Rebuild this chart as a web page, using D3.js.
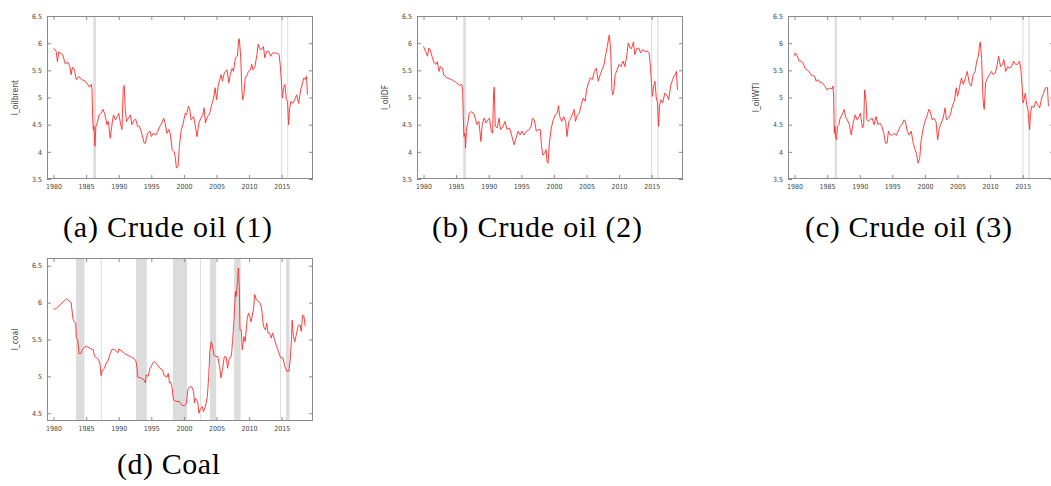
<!DOCTYPE html>
<html>
<head>
<meta charset="utf-8">
<script src="https://cdn.jsdelivr.net/npm/d3@7"></script>
<style>
  body { margin: 0; background: #fff; }
</style>
</head>
<body>
<div id="fig"></div>
<script>
// ---- data (year, log price) ----
var brent = [[1980.0,5.91],[1980.4,5.85],[1980.6,5.66],[1980.8,5.84],[1981.0,5.82],[1981.4,5.79],[1981.8,5.62],[1982.2,5.65],[1982.5,5.57],[1982.7,5.42],[1982.9,5.56],[1983.2,5.51],[1983.5,5.33],[1983.9,5.39],[1984.3,5.33],[1984.8,5.31],[1985.2,5.25],[1985.5,5.19],[1985.8,5.24],[1985.9,5.16],[1986.0,4.65],[1986.1,4.4],[1986.2,4.47],[1986.35,4.10],[1986.5,4.47],[1986.7,4.53],[1987.0,4.68],[1987.3,4.71],[1987.6,4.78],[1987.9,4.68],[1988.2,4.5],[1988.4,4.56],[1988.7,4.25],[1989.0,4.53],[1989.2,4.68],[1989.5,4.59],[1989.8,4.65],[1990.0,4.71],[1990.3,4.5],[1990.5,4.41],[1990.7,5.18],[1990.85,5.22],[1991.0,4.78],[1991.2,4.56],[1991.5,4.62],[1991.8,4.68],[1992.0,4.5],[1992.4,4.59],[1992.6,4.6],[1992.9,4.47],[1993.2,4.47],[1993.6,4.31],[1993.9,4.16],[1994.1,4.16],[1994.4,4.34],[1994.8,4.38],[1995.0,4.28],[1995.3,4.34],[1995.7,4.31],[1996.0,4.38],[1996.3,4.47],[1996.6,4.53],[1996.9,4.62],[1997.1,4.53],[1997.4,4.34],[1997.7,4.41],[1997.9,4.34],[1998.2,4.04],[1998.5,4.0],[1998.7,3.88],[1998.85,3.70],[1999.1,3.73],[1999.3,4.10],[1999.6,4.41],[1999.9,4.53],[2000.2,4.71],[2000.4,4.68],[2000.7,4.84],[2000.9,4.78],[2001.1,4.59],[2001.5,4.65],[2001.8,4.44],[2002.0,4.28],[2002.3,4.53],[2002.6,4.62],[2002.9,4.68],[2003.1,4.81],[2003.3,4.53],[2003.6,4.65],[2003.9,4.68],[2004.2,4.84],[2004.5,4.96],[2004.8,5.18],[2005.0,4.96],[2005.3,5.24],[2005.7,5.42],[2005.9,5.30],[2006.2,5.45],[2006.6,5.51],[2006.9,5.27],[2007.1,5.42],[2007.4,5.54],[2007.6,5.48],[2007.9,5.73],[2008.2,5.76],[2008.4,6.07],[2008.5,6.08],[2008.7,5.76],[2008.9,5.14],[2009.0,4.96],[2009.2,5.05],[2009.4,5.36],[2009.7,5.42],[2009.9,5.48],[2010.2,5.51],[2010.4,5.61],[2010.6,5.51],[2010.9,5.57],[2011.2,5.79],[2011.4,5.98],[2011.7,5.88],[2011.9,5.88],[2012.2,5.94],[2012.4,5.73],[2012.7,5.85],[2013.0,5.85],[2013.3,5.76],[2013.6,5.82],[2014.0,5.82],[2014.4,5.81],[2014.6,5.79],[2014.8,5.57],[2015.0,5.21],[2015.1,4.99],[2015.3,5.18],[2015.5,5.24],[2015.7,4.96],[2015.9,4.93],[2016.05,4.5],[2016.2,4.78],[2016.4,4.93],[2016.7,4.89],[2017.0,4.96],[2017.3,5.05],[2017.6,4.89],[2017.9,5.14],[2018.2,5.27],[2018.4,5.36],[2018.6,5.33],[2018.8,5.39],[2018.95,5.05]];

var oilIDF = [[1980.0,5.94],[1980.3,5.85],[1980.6,5.76],[1980.8,5.91],[1981.0,5.88],[1981.3,5.76],[1981.6,5.64],[1981.9,5.61],[1982.1,5.66],[1982.4,5.48],[1982.6,5.57],[1982.9,5.54],[1983.1,5.42],[1983.6,5.36],[1984.1,5.34],[1984.6,5.31],[1985.1,5.27],[1985.5,5.22],[1985.9,5.24],[1986.0,5.14],[1986.1,4.65],[1986.2,4.28],[1986.35,4.34],[1986.45,4.07],[1986.6,4.44],[1986.8,4.53],[1987.0,4.71],[1987.3,4.74],[1987.7,4.71],[1988.0,4.59],[1988.2,4.5],[1988.5,4.56],[1988.8,4.19],[1989.0,4.5],[1989.3,4.62],[1989.6,4.53],[1989.9,4.59],[1990.1,4.62],[1990.4,4.38],[1990.6,4.34],[1990.75,5.08],[1990.85,5.19],[1991.0,4.47],[1991.3,4.44],[1991.6,4.62],[1991.8,4.41],[1992.1,4.44],[1992.5,4.56],[1992.8,4.41],[1993.2,4.44],[1993.5,4.31],[1993.9,4.13],[1994.1,4.22],[1994.5,4.38],[1994.8,4.31],[1995.1,4.38],[1995.4,4.31],[1995.8,4.38],[1996.2,4.41],[1996.5,4.47],[1996.7,4.62],[1997.0,4.59],[1997.3,4.38],[1997.6,4.41],[1997.9,4.41],[1998.1,4.1],[1998.3,3.94],[1998.6,3.97],[1998.8,4.04],[1998.95,3.82],[1999.1,3.79],[1999.3,4.16],[1999.6,4.44],[1999.9,4.59],[2000.2,4.68],[2000.5,4.71],[2000.7,4.85],[2000.9,4.65],[2001.2,4.56],[2001.5,4.65],[2001.8,4.56],[2002.0,4.28],[2002.3,4.56],[2002.6,4.62],[2002.9,4.71],[2003.1,4.78],[2003.3,4.56],[2003.6,4.68],[2003.9,4.71],[2004.2,4.87],[2004.5,4.99],[2004.8,4.93],[2005.0,5.14],[2005.3,5.27],[2005.6,5.36],[2005.9,5.33],[2006.2,5.48],[2006.5,5.54],[2006.8,5.30],[2007.1,5.42],[2007.4,5.51],[2007.7,5.61],[2007.9,5.76],[2008.2,5.94],[2008.4,6.10],[2008.5,6.15],[2008.7,5.88],[2008.9,5.14],[2009.0,5.05],[2009.15,5.08],[2009.4,5.42],[2009.7,5.51],[2010.0,5.61],[2010.3,5.57],[2010.6,5.67],[2010.9,5.57],[2011.2,5.79],[2011.4,6.0],[2011.7,5.91],[2011.9,5.90],[2012.2,6.02],[2012.4,5.79],[2012.7,5.90],[2013.0,5.91],[2013.3,5.82],[2013.6,5.88],[2014.0,5.85],[2014.4,5.85],[2014.6,5.82],[2014.8,5.57],[2015.0,5.21],[2015.1,5.02],[2015.3,5.21],[2015.5,5.30],[2015.7,4.99],[2015.9,4.90],[2016.05,4.47],[2016.2,4.84],[2016.4,4.96],[2016.7,4.90],[2017.0,5.08],[2017.3,5.05],[2017.6,4.96],[2017.9,5.21],[2018.2,5.33],[2018.4,5.39],[2018.6,5.42],[2018.8,5.48],[2018.95,5.14]];

var oilWTI = [[1980.0,5.76],[1980.1,5.82],[1980.4,5.77],[1980.7,5.67],[1981.0,5.67],[1981.3,5.64],[1981.6,5.54],[1981.9,5.51],[1982.2,5.48],[1982.5,5.42],[1982.8,5.40],[1983.1,5.39],[1983.3,5.30],[1983.6,5.33],[1983.9,5.27],[1984.2,5.28],[1984.6,5.22],[1985.0,5.14],[1985.2,5.17],[1985.5,5.17],[1985.8,5.16],[1985.9,5.21],[1986.0,5.02],[1986.1,4.34],[1986.2,4.47],[1986.3,4.28],[1986.45,4.22],[1986.6,4.47],[1986.8,4.5],[1987.0,4.62],[1987.3,4.68],[1987.6,4.78],[1987.9,4.62],[1988.1,4.59],[1988.4,4.5],[1988.7,4.31],[1989.0,4.53],[1989.3,4.68],[1989.6,4.59],[1989.9,4.65],[1990.1,4.71],[1990.4,4.44],[1990.6,4.47],[1990.75,5.14],[1990.95,4.96],[1991.1,4.59],[1991.3,4.56],[1991.6,4.59],[1991.9,4.62],[1992.2,4.5],[1992.5,4.65],[1992.8,4.5],[1993.1,4.53],[1993.4,4.47],[1993.7,4.34],[1993.95,4.16],[1994.2,4.16],[1994.4,4.38],[1994.7,4.31],[1995.0,4.31],[1995.3,4.34],[1995.6,4.30],[1995.9,4.38],[1996.2,4.47],[1996.5,4.5],[1996.8,4.59],[1997.0,4.56],[1997.3,4.38],[1997.6,4.31],[1997.9,4.38],[1998.2,4.16],[1998.5,4.04],[1998.7,3.97],[1998.95,3.79],[1999.2,3.88],[1999.4,4.19],[1999.7,4.41],[2000.0,4.56],[2000.3,4.65],[2000.6,4.78],[2000.8,4.75],[2001.1,4.59],[2001.4,4.62],[2001.7,4.56],[2001.95,4.22],[2002.2,4.44],[2002.5,4.53],[2002.8,4.62],[2003.1,4.81],[2003.3,4.59],[2003.6,4.62],[2003.9,4.68],[2004.2,4.84],[2004.5,4.93],[2004.8,5.18],[2005.0,5.02],[2005.3,5.18],[2005.6,5.36],[2005.9,5.24],[2006.2,5.36],[2006.5,5.48],[2006.8,5.27],[2007.1,5.21],[2007.4,5.42],[2007.7,5.48],[2007.95,5.67],[2008.2,5.76],[2008.4,5.98],[2008.5,6.02],[2008.7,5.70],[2008.9,5.02],[2009.0,4.84],[2009.1,4.78],[2009.3,5.27],[2009.6,5.36],[2009.9,5.42],[2010.2,5.48],[2010.5,5.42],[2010.8,5.45],[2011.1,5.61],[2011.3,5.76],[2011.6,5.57],[2011.9,5.61],[2012.1,5.70],[2012.4,5.48],[2012.7,5.57],[2013.0,5.54],[2013.3,5.57],[2013.6,5.67],[2013.9,5.61],[2014.2,5.61],[2014.5,5.67],[2014.7,5.54],[2014.9,5.21],[2015.05,4.90],[2015.2,4.96],[2015.4,5.08],[2015.6,4.87],[2015.8,4.78],[2016.05,4.41],[2016.2,4.71],[2016.4,4.84],[2016.7,4.81],[2017.0,4.93],[2017.3,4.87],[2017.6,4.81],[2017.9,4.99],[2018.2,5.08],[2018.5,5.18],[2018.8,5.18],[2018.95,4.84]];

var coal = [[1980.0,5.91],[1980.4,5.92],[1981.0,5.97],[1981.6,6.02],[1982.0,6.05],[1982.4,6.02],[1982.7,6.0],[1983.0,5.77],[1983.2,5.74],[1983.4,5.72],[1983.5,5.52],[1983.7,5.50],[1983.9,5.31],[1984.2,5.31],[1984.4,5.36],[1984.6,5.38],[1984.8,5.40],[1985.0,5.41],[1985.6,5.38],[1986.1,5.36],[1986.3,5.27],[1986.9,5.23],[1987.1,5.18],[1987.3,5.01],[1987.5,5.08],[1987.8,5.11],[1988.1,5.18],[1988.4,5.22],[1988.7,5.31],[1989.0,5.37],[1989.4,5.36],[1989.9,5.32],[1990.0,5.37],[1990.4,5.35],[1990.9,5.31],[1991.5,5.28],[1992.0,5.26],[1992.6,5.22],[1992.8,5.13],[1992.9,4.99],[1993.4,4.98],[1993.9,4.95],[1994.0,4.93],[1994.1,4.91],[1994.2,5.02],[1994.5,5.0],[1994.8,5.11],[1995.0,5.13],[1995.2,5.18],[1995.5,5.20],[1995.9,5.16],[1996.3,5.11],[1996.7,5.09],[1997.0,5.01],[1997.4,4.99],[1997.6,5.04],[1997.8,4.91],[1998.0,4.92],[1998.2,4.84],[1998.4,4.68],[1998.8,4.66],[1999.3,4.66],[1999.7,4.61],[2000.1,4.60],[2000.4,4.64],[2000.6,4.82],[2000.9,4.86],[2001.2,4.86],[2001.5,4.79],[2001.6,4.64],[2001.8,4.70],[2002.1,4.66],[2002.3,4.50],[2002.5,4.55],[2002.8,4.59],[2003.0,4.52],[2003.3,4.59],[2003.6,4.73],[2003.8,5.0],[2004.0,5.36],[2004.2,5.47],[2004.4,5.41],[2004.6,5.29],[2004.9,5.27],[2005.2,5.27],[2005.5,5.11],[2005.7,4.98],[2005.9,5.09],[2006.2,5.27],[2006.5,5.26],[2006.7,5.11],[2006.9,5.22],[2007.3,5.29],[2007.5,5.52],[2007.7,5.79],[2007.9,6.15],[2008.0,6.08],[2008.2,6.26],[2008.35,6.47],[2008.5,6.22],[2008.6,5.63],[2008.8,5.63],[2008.95,5.36],[2009.2,5.54],[2009.4,5.47],[2009.7,5.77],[2009.9,5.86],[2010.1,5.81],[2010.3,5.74],[2010.5,5.83],[2010.7,5.93],[2010.85,6.11],[2011.1,6.04],[2011.4,6.02],[2011.7,5.99],[2011.9,5.93],[2012.2,5.68],[2012.5,5.63],[2012.7,5.72],[2012.9,5.59],[2013.1,5.59],[2013.4,5.52],[2013.6,5.59],[2013.9,5.50],[2014.2,5.41],[2014.5,5.34],[2014.7,5.28],[2014.9,5.25],[2015.2,5.25],[2015.5,5.13],[2015.8,5.07],[2016.1,5.07],[2016.3,5.22],[2016.5,5.50],[2016.6,5.76],[2016.8,5.54],[2017.0,5.47],[2017.3,5.59],[2017.5,5.68],[2017.8,5.70],[2018.0,5.61],[2018.2,5.83],[2018.4,5.82],[2018.6,5.68]];

// shaded periods [start, end]
var bandsBrent = [[1986.1, 1986.5], [2014.9, 2015.05], [2015.85, 2016.0]];
var bandsIDF = [[1986.1, 1986.5], [2014.9, 2015.05], [2015.85, 2016.05]];
var bandsWTI = [[1986.15, 1986.5], [2014.95, 2015.1], [2015.88, 2016.08]];
var bandsCoal = [[1983.45, 1984.75], [1987.25, 1987.4], [1992.65, 1994.3], [1998.3, 2000.5], [2002.45, 2002.6], [2004.0, 2004.95], [2007.7, 2008.7], [2014.75, 2014.9], [2015.65, 2016.2]];

var xTicks = [1980, 1985, 1990, 1995, 2000, 2005, 2010, 2015];
var yTicksOil = [3.5, 4, 4.5, 5, 5.5, 6, 6.5];
var yTicksCoal = [4.5, 5, 5.5, 6, 6.5];

var captions = ["(a) Crude oil (1)", "(b) Crude oil (2)", "(c) Crude oil (3)", "(d) Coal"];

// ---- layout ----
var width = 1051,
    height = 486,
    plotW = 266,
    plotH = 163,
    smallFont = "DejaVu Sans Condensed, DejaVu Sans"

var svg = d3.select("#fig")
            .append("svg")
            .attr("width", width)
            .attr("height", height)

function drawPanel(x0, y0, series, bands, yDomain, yTicks, label) {
    var g = svg.append("g")
               .attr("transform", "translate(" + (x0 + 47) + "," + y0 + ")")

    var x = d3.scaleLinear().domain([1979, 2019.8]).range([0, plotW])
    var y = d3.scaleLinear().domain(yDomain).range([plotH, 0])

    g.selectAll(".band")
     .data(bands)
     .enter().append("rect")
     .attr("x", function(d) { return x(d[0]) })
     .attr("width", function(d) { return x(d[1]) - x(d[0]) })
     .attr("y", 0)
     .attr("height", plotH)
     .attr("fill", "#dcdcdc")

    var line = d3.line()
                 .x(function(d) { return x(d[0]) })
                 .y(function(d) { return y(d[1]) })

    g.append("path")
     .datum(series)
     .attr("d", line)
     .attr("fill", "none")
     .attr("stroke", "#ff2a2a")
     .attr("stroke-width", 0.9)
     .attr("stroke-linejoin", "round")

    var fmt = function(d) { return d }

    var xb = g.append("g")
              .attr("transform", "translate(0," + plotH + ")")
              .call(d3.axisBottom(x).tickValues(xTicks).tickSizeInner(-4).tickSizeOuter(0).tickPadding(5).tickFormat(fmt))
    var xt = g.append("g")
              .call(d3.axisTop(x).tickValues(xTicks).tickSizeInner(-4).tickSizeOuter(0).tickFormat(""))
    var yl = g.append("g")
              .call(d3.axisLeft(y).tickValues(yTicks).tickSizeInner(-4).tickSizeOuter(0).tickPadding(5).tickFormat(fmt))
    var yr = g.append("g")
              .attr("transform", "translate(" + plotW + ",0)")
              .call(d3.axisRight(y).tickValues(yTicks).tickSizeInner(-4).tickSizeOuter(0).tickFormat(""))

    ;[xb, xt, yl, yr].forEach(function(a) {
        a.select(".domain").remove()
        a.selectAll("line").attr("stroke", "#8a8a8a")
        a.selectAll("text")
         .attr("font-family", smallFont)
         .attr("font-size", "7px")
         .attr("fill", "#454545")
    })

    g.append("rect")
     .attr("x", 0.5)
     .attr("y", 0.5)
     .attr("width", plotW - 1)
     .attr("height", plotH - 1)
     .attr("fill", "none")
     .attr("stroke", "#8a8a8a")
     .attr("stroke-width", 1)

    svg.append("text")
       .attr("transform", "translate(" + (x0 + 15) + "," + (y0 + plotH / 2) + ") rotate(-90)")
       .attr("text-anchor", "middle")
       .attr("dy", "0.35em")
       .attr("font-family", smallFont)
       .attr("font-size", "8.5px")
       .attr("fill", "#454545")
       .text(label)
}

drawPanel(0, 16, brent, bandsBrent, [3.5, 6.5], yTicksOil, "l_oilbrent")
drawPanel(370, 16, oilIDF, bandsIDF, [3.5, 6.5], yTicksOil, "l_oilDF")
drawPanel(741, 16, oilWTI, bandsWTI, [3.5, 6.5], yTicksOil, "l_oilWTI")
drawPanel(0, 258, coal, bandsCoal, [4.395, 6.605], yTicksCoal, "l_coal")

// caption centre x, baseline y, width
var capPos = [[167.5, 237, 209], [537, 237, 210], [908.5, 237, 207], [168.5, 474, 103]]

svg.selectAll(".caption")
   .data(captions)
   .enter().append("text")
   .attr("class", "caption")
   .attr("x", function(d, i) { return capPos[i][0] })
   .attr("y", function(d, i) { return capPos[i][1] })
   .attr("text-anchor", "middle")
   .attr("textLength", function(d, i) { return capPos[i][2] })
   .attr("lengthAdjust", "spacing")
   .attr("font-family", "'Liberation Serif', 'DejaVu Serif', serif")
   .attr("font-size", "30px")
   .attr("fill", "#000")
   .text(function(d) { return d })
</script>
</body>
</html>
